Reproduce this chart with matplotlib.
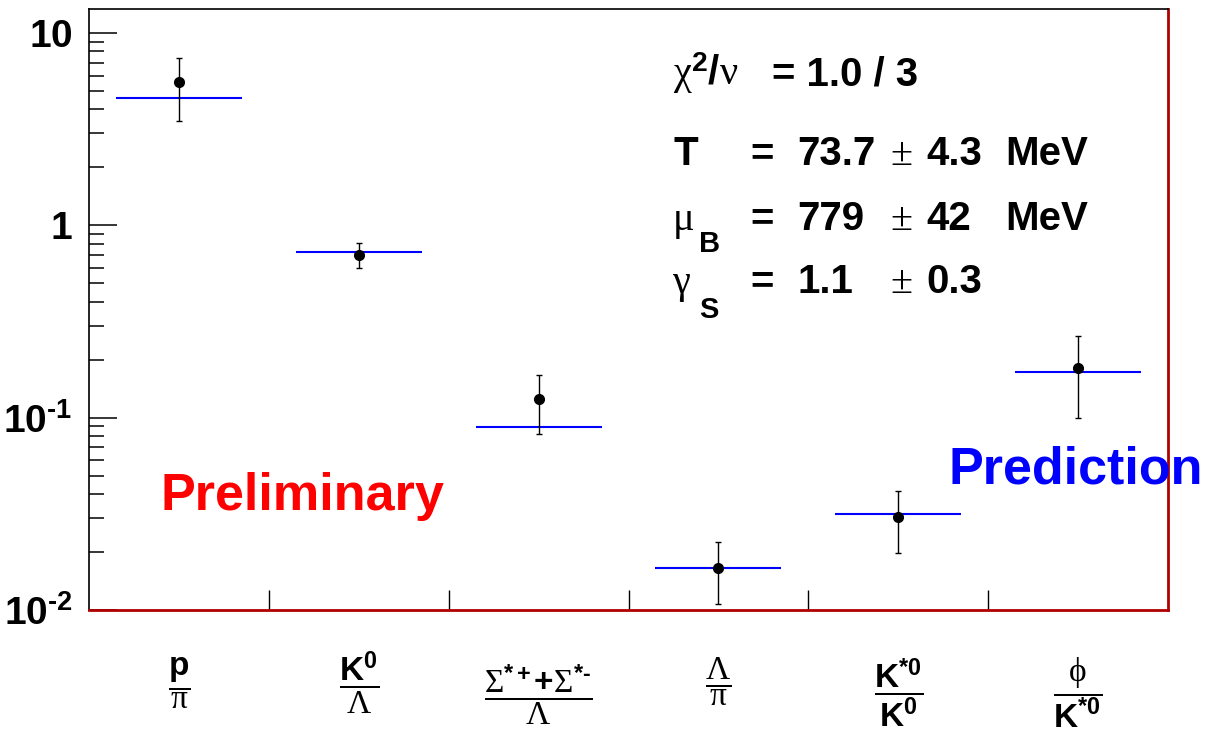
import matplotlib
matplotlib.use('Agg')
import matplotlib.pyplot as plt
from matplotlib.transforms import blended_transform_factory
from matplotlib.ticker import LogLocator, NullFormatter, FixedLocator

plt.rcParams['font.family'] = ['Liberation Sans', 'DejaVu Sans']
plt.rcParams['mathtext.fontset'] = 'custom'
plt.rcParams['mathtext.rm'] = 'Liberation Serif'
plt.rcParams['mathtext.it'] = 'Liberation Serif:italic'
plt.rcParams['mathtext.bf'] = 'Liberation Sans:bold'
plt.rcParams['mathtext.sf'] = 'Liberation Sans'

HY = '\u2010'  # short hyphen, as in the reference superscripts

# ---- data ----
ratio_labels = [
    r'$\dfrac{\mathbf{p}}{\mathrm{\pi}}$',
    r'$\dfrac{\mathbf{K^{0}}}{\mathrm{\Lambda}}$',
    r'$\dfrac{\mathrm{\Sigma}^{\mathbf{*+}}\mathbf{+}\mathrm{\Sigma}^{\mathbf{*' + HY + r'}}}{\mathrm{\Lambda}}$',
    r'$\dfrac{\mathrm{\Lambda}}{\mathrm{\pi}}$',
    r'$\dfrac{\mathbf{K^{*0}}}{\mathbf{K^{0}}}$',
    r'$\dfrac{\mathrm{\phi}}{\mathbf{K^{*0}}}$',
]
measured = [5.52, 0.696, 0.1245, 0.0166, 0.0303, 0.182]
meas_upper = [7.41, 0.811, 0.166, 0.0225, 0.0417, 0.265]
meas_lower = [3.50, 0.602, 0.0826, 0.0108, 0.0197, 0.100]
model = [4.56, 0.727, 0.0891, 0.0166, 0.0315, 0.172]
ytick_vals = [0.01, 0.1, 1, 10]
ytick_labels = [r'$\mathbf{10^{' + HY + r'2}}$', r'$\mathbf{10^{' + HY + r'1}}$',
                r'$\mathbf{1}$', r'$\mathbf{10}$']

W, H = 1209, 739
fig = plt.figure(figsize=(W / 100, H / 100), dpi=100)
ax = fig.add_axes([89 / W, 1 - 610 / H, (1168 - 89) / W, (610 - 9) / H])

def px(x, y):
    return x / W, 1 - y / H

n = len(measured)
xc = [i + 0.5 for i in range(n)]

ax.hlines(model, [x - 0.35 for x in xc], [x + 0.35 for x in xc],
          colors='#0000ff', linewidth=1.5, zorder=2)
yerr = [[m - lo for m, lo in zip(measured, meas_lower)],
        [hi - m for m, hi in zip(measured, meas_upper)]]
ax.errorbar(xc, measured, yerr=yerr, fmt='o', color='black', ms=7,
            elinewidth=1.0, capsize=2.5, capthick=1.0, zorder=3)

ax.set_yscale('log')
ax.set_ylim(0.01, 13.3)
ax.set_xlim(0, n)

ax.yaxis.set_major_locator(FixedLocator(ytick_vals))
ax.set_yticklabels(ytick_labels)
ax.yaxis.set_minor_locator(LogLocator(base=10, subs=range(2, 10), numticks=20))
ax.yaxis.set_minor_formatter(NullFormatter())
ax.tick_params(axis='y', which='major', direction='in', length=20, width=1.1,
               labelsize=28, pad=12, right=False)
ax.tick_params(axis='y', which='minor', direction='in', length=10.8, width=1.1, right=False)

ax.set_xticks(list(range(1, n)))
ax.set_xticklabels([])
ax.tick_params(axis='x', which='major', direction='in', length=14.4, width=1, top=False)
ax.tick_params(axis='x', which='minor', bottom=False, top=False)

for s in ['left', 'top']:
    ax.spines[s].set_color('black')
    ax.spines[s].set_linewidth(1.2)
for s in ['right', 'bottom']:
    ax.spines[s].set_color('#b00000')
    ax.spines[s].set_linewidth(2.0)

# category labels (fractions)
trans = blended_transform_factory(ax.transData, fig.transFigure)
label_bar_y = [683, 683, 695, 682, 693, 693]
for x, lab, yb in zip(xc, ratio_labels, label_bar_y):
    ax.text(x, 1 - yb / H, lab, transform=trans, ha='center', va='center',
            fontsize=24, clip_on=False)

# fit result text
fs = 29
sub_fs = 21
bold = dict(fontsize=fs, fontweight='bold', ha='left', va='baseline', family='Liberation Sans')
subb = dict(fontsize=sub_fs, fontweight='bold', ha='left', va='baseline', family='Liberation Sans')
greek = dict(fontsize=fs, ha='left', va='baseline', family='Liberation Serif')
pm = dict(fontsize=fs, ha='left', va='baseline', family='Liberation Serif')

fig.text(*px(673, 85), r'$\mathrm{\chi}^{\mathbf{2}}\mathbf{/}\mathrm{\nu}$', fontsize=fs,
         ha='left', va='baseline')
fig.text(*px(772, 85), '= 1.0 / 3', **bold)

fig.text(*px(673, 165), 'T', **bold)
fig.text(*px(750, 165), '=', **bold)
fig.text(*px(797, 165), '73.7', **bold)
fig.text(*px(890, 165), '\u00b1', **pm)
fig.text(*px(926, 165), '4.3', **bold)
fig.text(*px(1005, 165), 'MeV', **bold)

fig.text(*px(673, 230), '\u03bc', **greek)
fig.text(*px(699, 252), 'B', **subb)
fig.text(*px(750, 230), '=', **bold)
fig.text(*px(797, 230), '779', **bold)
fig.text(*px(890, 230), '\u00b1', **pm)
fig.text(*px(926, 230), '42', **bold)
fig.text(*px(1005, 230), 'MeV', **bold)

fig.text(*px(673, 293), '\u03b3', **greek)
fig.text(*px(699, 318), 'S', **subb)
fig.text(*px(750, 293), '=', **bold)
fig.text(*px(797, 293), '1.1', **bold)
fig.text(*px(890, 293), '\u00b1', **pm)
fig.text(*px(926, 293), '0.3', **bold)

fig.text(*px(160, 510), 'Preliminary', color='#ff0000', fontsize=37.5,
         fontweight='bold', ha='left', va='baseline')
fig.text(*px(948, 483), 'Prediction', color='#0000ff', fontsize=37.5,
         fontweight='bold', ha='left', va='baseline')

fig.savefig('out.png', dpi=100, facecolor='white')
